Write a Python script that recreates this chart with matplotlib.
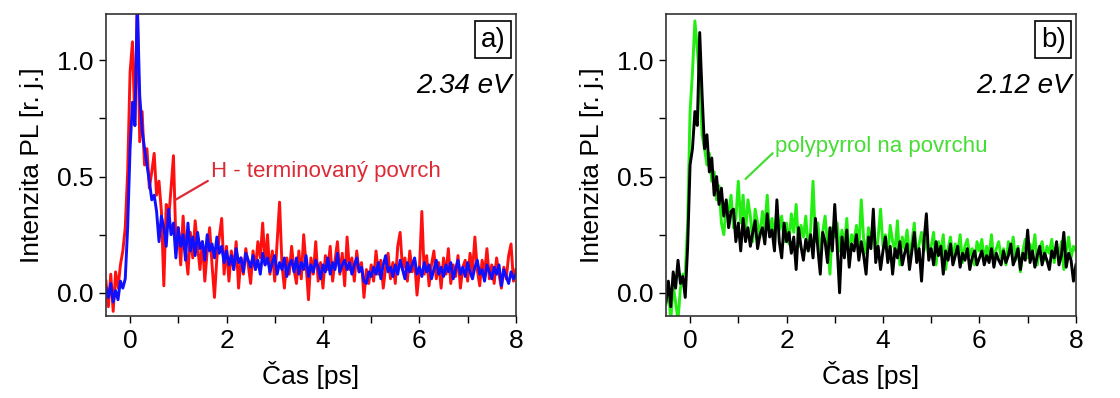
import numpy as np
import matplotlib
matplotlib.use('Agg')
import matplotlib.pyplot as plt
from matplotlib.ticker import MultipleLocator, FormatStrFormatter

plt.rcParams['font.family'] = ['Liberation Sans', 'DejaVu Sans']

# casova osa (ps), krok 0.05
t_start = -0.5
t_step = 0.05
n_pts = 171
cas = t_start + t_step * np.arange(n_pts)

# panel a) 2.34 eV - H-terminovany povrch (cervena) a druha krivka (modra)
pl_a_red = [
    0.05, -0.06, 0.08, -0.08, 0.09, 0.02, 0.12, 0.18, 0.28, 0.52,
    0.95, 1.08, 0.72, 1.25, 0.65, 0.78, 0.55, 0.62, 0.45, 0.52,
    0.60, 0.42, 0.48, 0.35, 0.03, 0.38, 0.32, 0.45, 0.59, 0.22,
    0.28, 0.12, 0.33, 0.18, 0.08, 0.26, 0.15, 0.31, 0.20, 0.10,
    0.22, 0.05, 0.18, 0.28, 0.12, -0.02, 0.15, 0.24, 0.32, 0.08,
    0.20, 0.05, 0.18, 0.10, 0.22, 0.02, 0.15, 0.08, 0.19, 0.12,
    0.04, 0.18, 0.10, 0.22, 0.15, 0.30, 0.12, 0.25, 0.08, 0.18,
    0.05, 0.22, 0.39, 0.12, 0.02, 0.15, 0.08, 0.20, 0.10, 0.04,
    0.18, 0.06, 0.25, 0.12, -0.03, 0.15, 0.08, 0.22, 0.05, 0.13,
    0.02, 0.16, 0.10, 0.20, 0.05, 0.14, 0.22, 0.08, 0.17, 0.03,
    0.24, 0.10, 0.15, 0.05, 0.18, 0.09, 0.13, -0.02, 0.10, 0.04,
    0.12, 0.05, 0.18, 0.08, 0.14, 0.02, 0.11, 0.17, 0.06, 0.13,
    0.04, 0.20, 0.26, 0.10, 0.15, 0.05, 0.18, 0.09, 0.14, -0.01,
    0.10, 0.35, 0.08, 0.16, 0.03, 0.12, 0.18, 0.06, 0.13, 0.02,
    0.15, 0.08, 0.19, 0.04, 0.12, 0.07, 0.16, 0.02, 0.11, 0.14,
    0.05, 0.17, 0.09, 0.24, 0.10, 0.03, 0.14, 0.08, 0.19, 0.06,
    0.12, 0.04, 0.15, 0.08, 0.02, 0.11, 0.06, 0.16, 0.21, 0.05,
    0.10]

pl_a_blue = [
    0.02, -0.02, 0.04, -0.04, 0.01, -0.03, 0.05, 0.02, 0.06, 0.28,
    0.62, 0.82, 0.72, 1.25, 0.85, 0.70, 0.62, 0.55, 0.48, 0.40,
    0.42, 0.35, 0.22, 0.33, 0.28, 0.20, 0.36, 0.25, 0.30, 0.15,
    0.28, 0.20, 0.25, 0.14, 0.30, 0.18, 0.24, 0.16, 0.26, 0.19,
    0.22, 0.14, 0.25, 0.18, 0.21, 0.15, 0.24, 0.17, 0.20, 0.13,
    0.18, 0.12, 0.16, 0.10, 0.19, 0.13, 0.15, 0.09, 0.17, 0.14,
    0.11, 0.16, 0.10, 0.14, 0.08, 0.17, 0.12, 0.15, 0.09, 0.13,
    0.16, 0.08, 0.13, 0.10, 0.15, 0.07, 0.12, 0.14, 0.09, 0.15,
    0.08, 0.13, 0.10, 0.16, 0.07, 0.12, 0.09, 0.14, 0.11, 0.06,
    0.12, 0.09, 0.15, 0.08, 0.13, 0.10, 0.17, 0.09, 0.12, 0.14,
    0.10, 0.13, 0.08, 0.12, 0.15, 0.09, 0.11, 0.05, 0.04, 0.09,
    0.07, 0.11, 0.08, 0.13, 0.06, 0.12, 0.16, 0.09, 0.11, 0.07,
    0.12, 0.08, 0.14, 0.10, 0.06, 0.13, 0.09, 0.12, 0.15, 0.08,
    0.11, 0.07, 0.13, 0.09, 0.12, 0.06, 0.10, 0.14, 0.08, 0.11,
    0.07, 0.12, 0.09, 0.13, 0.06, 0.10, 0.14, 0.08, 0.11, 0.07,
    0.13, 0.09, 0.06, 0.11, 0.14, 0.08, 0.10, 0.05, 0.12, 0.09,
    0.06, 0.11, 0.08, 0.12, 0.03, 0.10, 0.07, 0.04, 0.09, 0.06,
    0.08]

# panel b) 2.12 eV - polypyrrol na povrchu (zelena) a cerna
pl_b_green = [
    -0.05, 0.02, -0.12, 0.03, -0.04, -0.12, 0.02, 0.08, 0.08, 0.30,
    0.78, 0.95, 1.17, 1.05, 0.90, 0.68, 0.62, 0.55, 0.60, 0.48,
    0.52, 0.40, 0.46, 0.30, 0.25, 0.38, 0.35, 0.42, 0.28, 0.32,
    0.48, 0.30, 0.42, 0.26, 0.40, 0.33, 0.22, 0.36, 0.30, 0.24,
    0.35, 0.28, 0.42, 0.25, 0.32, 0.20, 0.37, 0.27, 0.33, 0.22,
    0.30, 0.21, 0.34, 0.26, 0.38, 0.20, 0.29, 0.24, 0.33, 0.18,
    0.27, 0.48, 0.22, 0.30, 0.17, 0.26, 0.33, 0.21, 0.08, 0.28,
    0.24, 0.30, 0.18, 0.27, 0.20, 0.32, 0.14, 0.25, 0.22, 0.29,
    0.19, 0.40, 0.23, 0.17, 0.28, 0.21, 0.30, 0.15, 0.24, 0.36,
    0.20, 0.25, 0.16, 0.29, 0.22, 0.18, 0.31, 0.12, 0.24, 0.19,
    0.27, 0.16, 0.22, 0.30, 0.14, 0.21, 0.26, 0.18, 0.23, 0.15,
    0.20, 0.26, 0.12, 0.22, 0.17, 0.25, 0.10, 0.19, 0.24, 0.15,
    0.21, 0.17, 0.25, 0.13, 0.20, 0.23, 0.16, 0.19, 0.12, 0.22,
    0.18, 0.23, 0.14, 0.20, 0.16, 0.25, 0.13, 0.19, 0.22, 0.15,
    0.19, 0.12, 0.22, 0.17, 0.24, 0.14, 0.20, 0.09, 0.18, 0.23,
    0.15, 0.21, 0.17, 0.25, 0.12, 0.19, 0.22, 0.14, 0.20, 0.17,
    0.23, 0.13, 0.19, 0.16, 0.22, 0.10, 0.18, 0.24, 0.15, 0.20,
    0.18]

pl_b_black = [
    -0.04, 0.05, -0.06, 0.09, 0.02, 0.14, 0.04, 0.07, -0.02, 0.20,
    0.55, 0.62, 0.78, 0.72, 1.12, 0.85, 0.62, 0.68, 0.52, 0.58,
    0.42, 0.50, 0.38, 0.45, 0.33, 0.40, 0.28, 0.35, 0.36, 0.22,
    0.30, 0.18, 0.32, 0.22, 0.28, 0.20, 0.26, 0.31, 0.19, 0.25,
    0.28, 0.21, 0.34, 0.24, 0.27, 0.18, 0.40, 0.22, 0.15, 0.30,
    0.22, 0.26, 0.17, 0.24, 0.10, 0.28, 0.20, 0.14, 0.23, 0.18,
    0.25, 0.15, 0.32, 0.19, 0.08, 0.26, 0.22, 0.13, 0.28, 0.18,
    0.38, 0.20, 0.00, 0.24, 0.15, 0.27, 0.11, 0.21, 0.18, 0.25,
    0.14, 0.22, 0.16, 0.08, 0.24, 0.19, 0.36, 0.13, 0.20, 0.10,
    0.18, 0.24, 0.13, 0.20, 0.08, 0.19, 0.15, 0.22, 0.12, 0.17,
    0.21, 0.10, 0.18, 0.26, 0.13, 0.19, 0.05, 0.22, 0.34, 0.14,
    0.19, 0.12, 0.22, 0.16, 0.20, 0.08, 0.18, 0.14, 0.21, 0.12,
    0.16, 0.20, 0.11, 0.17, 0.14, 0.19, 0.10, 0.15, 0.18, 0.12,
    0.15, 0.18, 0.12, 0.16, 0.13, 0.19, 0.11, 0.17, 0.14, 0.12,
    0.18, 0.13, 0.16, 0.21, 0.12, 0.15, 0.19, 0.10, 0.17, 0.14,
    0.27, 0.13, 0.18, 0.11, 0.16, 0.20, 0.12, 0.17, 0.14, 0.10,
    0.18, 0.15, 0.22, 0.12, 0.16, 0.26, 0.11, 0.17, 0.14, 0.05,
    0.12]

fig = plt.figure(figsize=(11.2, 3.98), dpi=100)
ax_a = fig.add_axes([0.0946, 0.206, 0.366, 0.759])
ax_b = fig.add_axes([0.5946, 0.206, 0.366, 0.759])

ax_a.plot(cas, pl_a_red, color='#ff1010', lw=2.1)
ax_a.plot(cas, pl_a_blue, color='#1010ff', lw=2.1)
ax_b.plot(cas, pl_b_green, color='#22ee11', lw=2.1)
ax_b.plot(cas, pl_b_black, color='black', lw=2.1)

for ax in (ax_a, ax_b):
    ax.set_xlim(-0.5, 8)
    ax.set_ylim(-0.1, 1.2)
    ax.xaxis.set_major_locator(MultipleLocator(2))
    ax.xaxis.set_minor_locator(MultipleLocator(1))
    ax.yaxis.set_major_locator(MultipleLocator(0.5))
    ax.yaxis.set_minor_locator(MultipleLocator(0.25))
    ax.yaxis.set_major_formatter(FormatStrFormatter('%.1f'))
    ax.tick_params(which='both', direction='out', length=5, width=1.0,
                   labelsize=19, top=False, right=False, pad=4)
    for s in ax.spines.values():
        s.set_linewidth(1.2)
        s.set_color('#333333')
    ax.set_xlabel('Čas [ps]', fontsize=19, labelpad=6)
    ax.set_ylabel('Intenzita PL [r. j.]', fontsize=19, labelpad=9)

# popisky panelu
ax_a.text(0.975, 0.915, 'a)', transform=ax_a.transAxes, ha='right', va='center',
          fontsize=20, bbox=dict(boxstyle='square,pad=0.2', fc='white', ec='black', lw=1.2))
ax_a.text(0.99, 0.76, '2.34 eV', transform=ax_a.transAxes, ha='right', va='center',
          fontsize=20, style='italic')
ax_b.text(0.975, 0.915, 'b)', transform=ax_b.transAxes, ha='right', va='center',
          fontsize=20, bbox=dict(boxstyle='square,pad=0.2', fc='white', ec='black', lw=1.2))
ax_b.text(0.99, 0.76, '2.12 eV', transform=ax_b.transAxes, ha='right', va='center',
          fontsize=20, style='italic')

# anotace
ax_a.annotate('H - terminovaný povrch', xy=(0.94, 0.40), xytext=(1.67, 0.52),
              color='#dd2a35', fontsize=16, va='center',
              arrowprops=dict(arrowstyle='-', color='#dd2a35', lw=1.6,
                              shrinkA=0, shrinkB=0, relpos=(0, 0.15)))
ax_b.annotate('polypyrrol na povrchu', xy=(1.15, 0.49), xytext=(1.77, 0.63),
              color='#44dd33', fontsize=16, va='center',
              arrowprops=dict(arrowstyle='-', color='#44dd33', lw=1.6,
                              shrinkA=0, shrinkB=0, relpos=(0, 0.3)))

fig.savefig('out.png', dpi=100)
plt.close(fig)
